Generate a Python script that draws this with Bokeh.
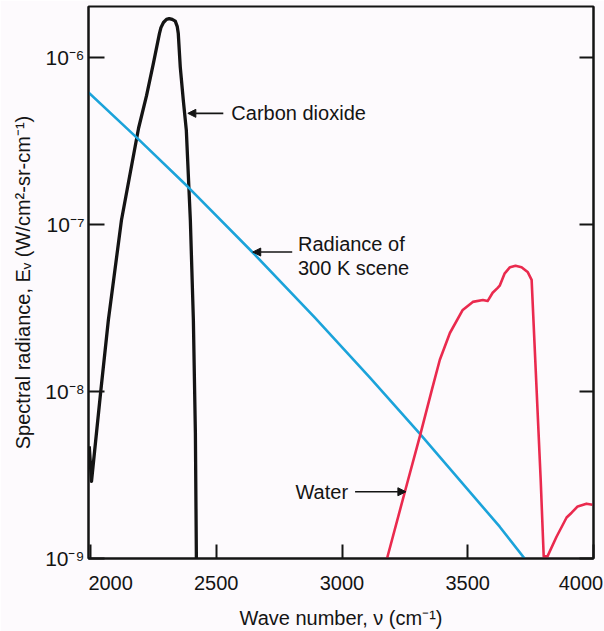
from bokeh.plotting import figure
from bokeh.models import FixedTicker, LogAxis, LinearAxis, Label, Arrow, NormalHead
from bokeh.embed import file_html
from bokeh.resources import INLINE

# ---- data ----
co2_wn = [1995, 2004, 2040, 2071, 2123, 2191, 2223, 2250, 2274, 2280, 2290, 2302,
          2313, 2325, 2337, 2345, 2349, 2357, 2369, 2381, 2397, 2409, 2417, 2421]
co2_e = [4.7e-9, 2.9e-9, 9.8e-9, 2.68e-8, 1.06e-7, 3.77e-7, 5.93e-7, 9.22e-7, 1.39e-6,
         1.51e-6, 1.62e-6, 1.69e-6, 1.71e-6, 1.69e-6, 1.65e-6, 1.53e-6, 1.39e-6,
         8.73e-7, 5.54e-7, 3.66e-7, 1.06e-7, 2.68e-8, 5.66e-9, 1.0e-9]

scene_wn = [1992, 2187, 2389, 2647, 2893, 3111, 3310, 3627, 3726]
scene_e = [6.18e-7, 3.28e-7, 1.67e-7, 6.75e-8, 2.76e-8, 1.21e-8, 5.58e-9, 1.55e-9,
           1.0e-9]

water_wn = [3179, 3250, 3310, 3357, 3389, 3429, 3480, 3520, 3560, 3579, 3599, 3619,
            3627, 3647, 3668, 3690, 3714, 3738, 3754, 3790, 3802, 3817, 3853, 3893,
            3913, 3937, 3972, 3996]
water_e = [1.0e-9, 2.51e-9, 5.43e-9, 1.02e-8, 1.55e-8, 2.24e-8, 3.08e-8, 3.44e-8,
           3.53e-8, 3.48e-8, 3.90e-8, 4.17e-8, 4.30e-8, 5.10e-8, 5.55e-8, 5.66e-8,
           5.55e-8, 5.20e-8, 4.66e-8, 2.96e-9, 1.03e-9, 1.03e-9, 1.35e-9, 1.76e-9,
           1.88e-9, 2.05e-9, 2.13e-9, 2.10e-9]

x_ticks = [2000, 2500, 3000, 3500, 4000]
x_tick_labels = ["2000", "2500", "3000", "3500", "4000"]
# where the reference prints each x tick label (end labels are nudged inward)
x_label_pos = [2080, 2500, 3000, 3500, 3950]
y_ticks = [1e-9, 1e-8, 1e-7, 1e-6]
y_tick_labels = ["10\u207b\u2079", "10\u207b\u2078", "10\u207b\u2077", "10\u207b\u2076"]

FONT = "Liberation Sans"
BG = "#fdfafd"
BLACK = "#141414"
BLUE = "#1ba3da"
RED = "#ea2a4e"

p = figure(width=604, height=631, x_range=(1992, 4000), y_range=(1e-9, 2.02e-6),
           y_axis_type="log", output_backend="svg", toolbar_location=None,
           min_border_left=88, min_border_right=11, min_border_top=6,
           min_border_bottom=72, background_fill_color=BG, border_fill_color=BG)
p.grid.visible = False
p.outline_line_color = BLACK
p.outline_line_width = 2

# lines
p.line(co2_wn, co2_e, line_color=BLACK, line_width=3.3, line_join="round")
p.line(scene_wn, scene_e, line_color=BLUE, line_width=2.6, line_join="round")
p.line(water_wn, water_e, line_color=RED, line_width=2.6, line_join="round")

# x axis: line and inward ticks only
xa = p.xaxis[0]
xa.ticker = FixedTicker(ticks=x_ticks, minor_ticks=[])
xa.major_tick_in = 14
xa.major_tick_out = 0
xa.major_tick_line_width = 2
xa.major_tick_line_color = BLACK
xa.axis_line_width = 2
xa.axis_line_color = BLACK
xa.major_label_overrides = {t: "" for t in x_ticks}
xa.major_label_text_font_size = "0px"
xa.major_label_standoff = 0

# x tick labels and title on a second, line-less axis just below
xl = LinearAxis(ticker=FixedTicker(ticks=x_label_pos, minor_ticks=[]),
                major_label_overrides=dict(zip(x_label_pos, x_tick_labels)),
                axis_line_color=None, major_tick_line_color=None,
                major_tick_in=0, major_tick_out=0, major_label_standoff=17,
                major_label_text_font=FONT, major_label_text_font_size="20px",
                major_label_text_color=BLACK,
                axis_label="Wave number, \u03bd (cm\u207b\u00b9)",
                axis_label_text_font=FONT, axis_label_text_font_size="20px",
                axis_label_text_font_style="normal", axis_label_text_color=BLACK,
                axis_label_standoff=14)
p.add_layout(xl, "below")

# y axis
ya = p.yaxis[0]
ya.ticker = FixedTicker(ticks=y_ticks, minor_ticks=[])
ya.major_tick_in = 16
ya.major_tick_out = 0
ya.major_tick_line_width = 2
ya.major_tick_line_color = BLACK
ya.axis_line_width = 2
ya.axis_line_color = BLACK
ya.major_label_overrides = dict(zip(y_ticks, y_tick_labels))
ya.major_label_text_font = FONT
ya.major_label_text_font_size = "21px"
ya.major_label_text_color = BLACK
ya.major_label_standoff = 4
ya.axis_label = "Spectral radiance, E\u1d65 (W/cm\u00b2-sr-cm\u207b\u00b9)"
ya.axis_label_text_font = FONT
ya.axis_label_text_font_size = "20px"
ya.axis_label_text_font_style = "normal"
ya.axis_label_text_color = BLACK
ya.axis_label_standoff = 8

# right axis with inward ticks only
ra = LogAxis(ticker=FixedTicker(ticks=y_ticks, minor_ticks=[]),
             major_tick_in=14, major_tick_out=0, major_tick_line_width=2,
             major_tick_line_color=BLACK, axis_line_width=2, axis_line_color=BLACK,
             major_label_overrides={t: "" for t in y_ticks},
             major_label_text_font_size="0px", major_label_standoff=0)
p.add_layout(ra, "right")

# annotations
def note(x, y, text, align="left"):
    p.add_layout(Label(x=x, y=y, text=text, text_align=align, text_baseline="middle",
                       text_font=FONT, text_font_size="20px", text_color=BLACK))

def arrow(x0, x1, y):
    p.add_layout(Arrow(x_start=x0, y_start=y, x_end=x1, y_end=y, line_width=1.6,
                       line_color=BLACK,
                       end=NormalHead(size=8, fill_color=BLACK, line_color=BLACK,
                                      line_width=1)))

arrow(2528, 2387, 4.63e-7)
note(2560, 4.63e-7, "Carbon dioxide")
arrow(2802, 2645, 6.84e-8)
note(2825, 7.63e-8, "Radiance of")
note(2825, 5.48e-8, "300 K scene")
arrow(3052, 3254, 2.51e-9)
note(3024, 2.51e-9, "Water", align="right")

open("out.html", "w").write(file_html(p, INLINE))
